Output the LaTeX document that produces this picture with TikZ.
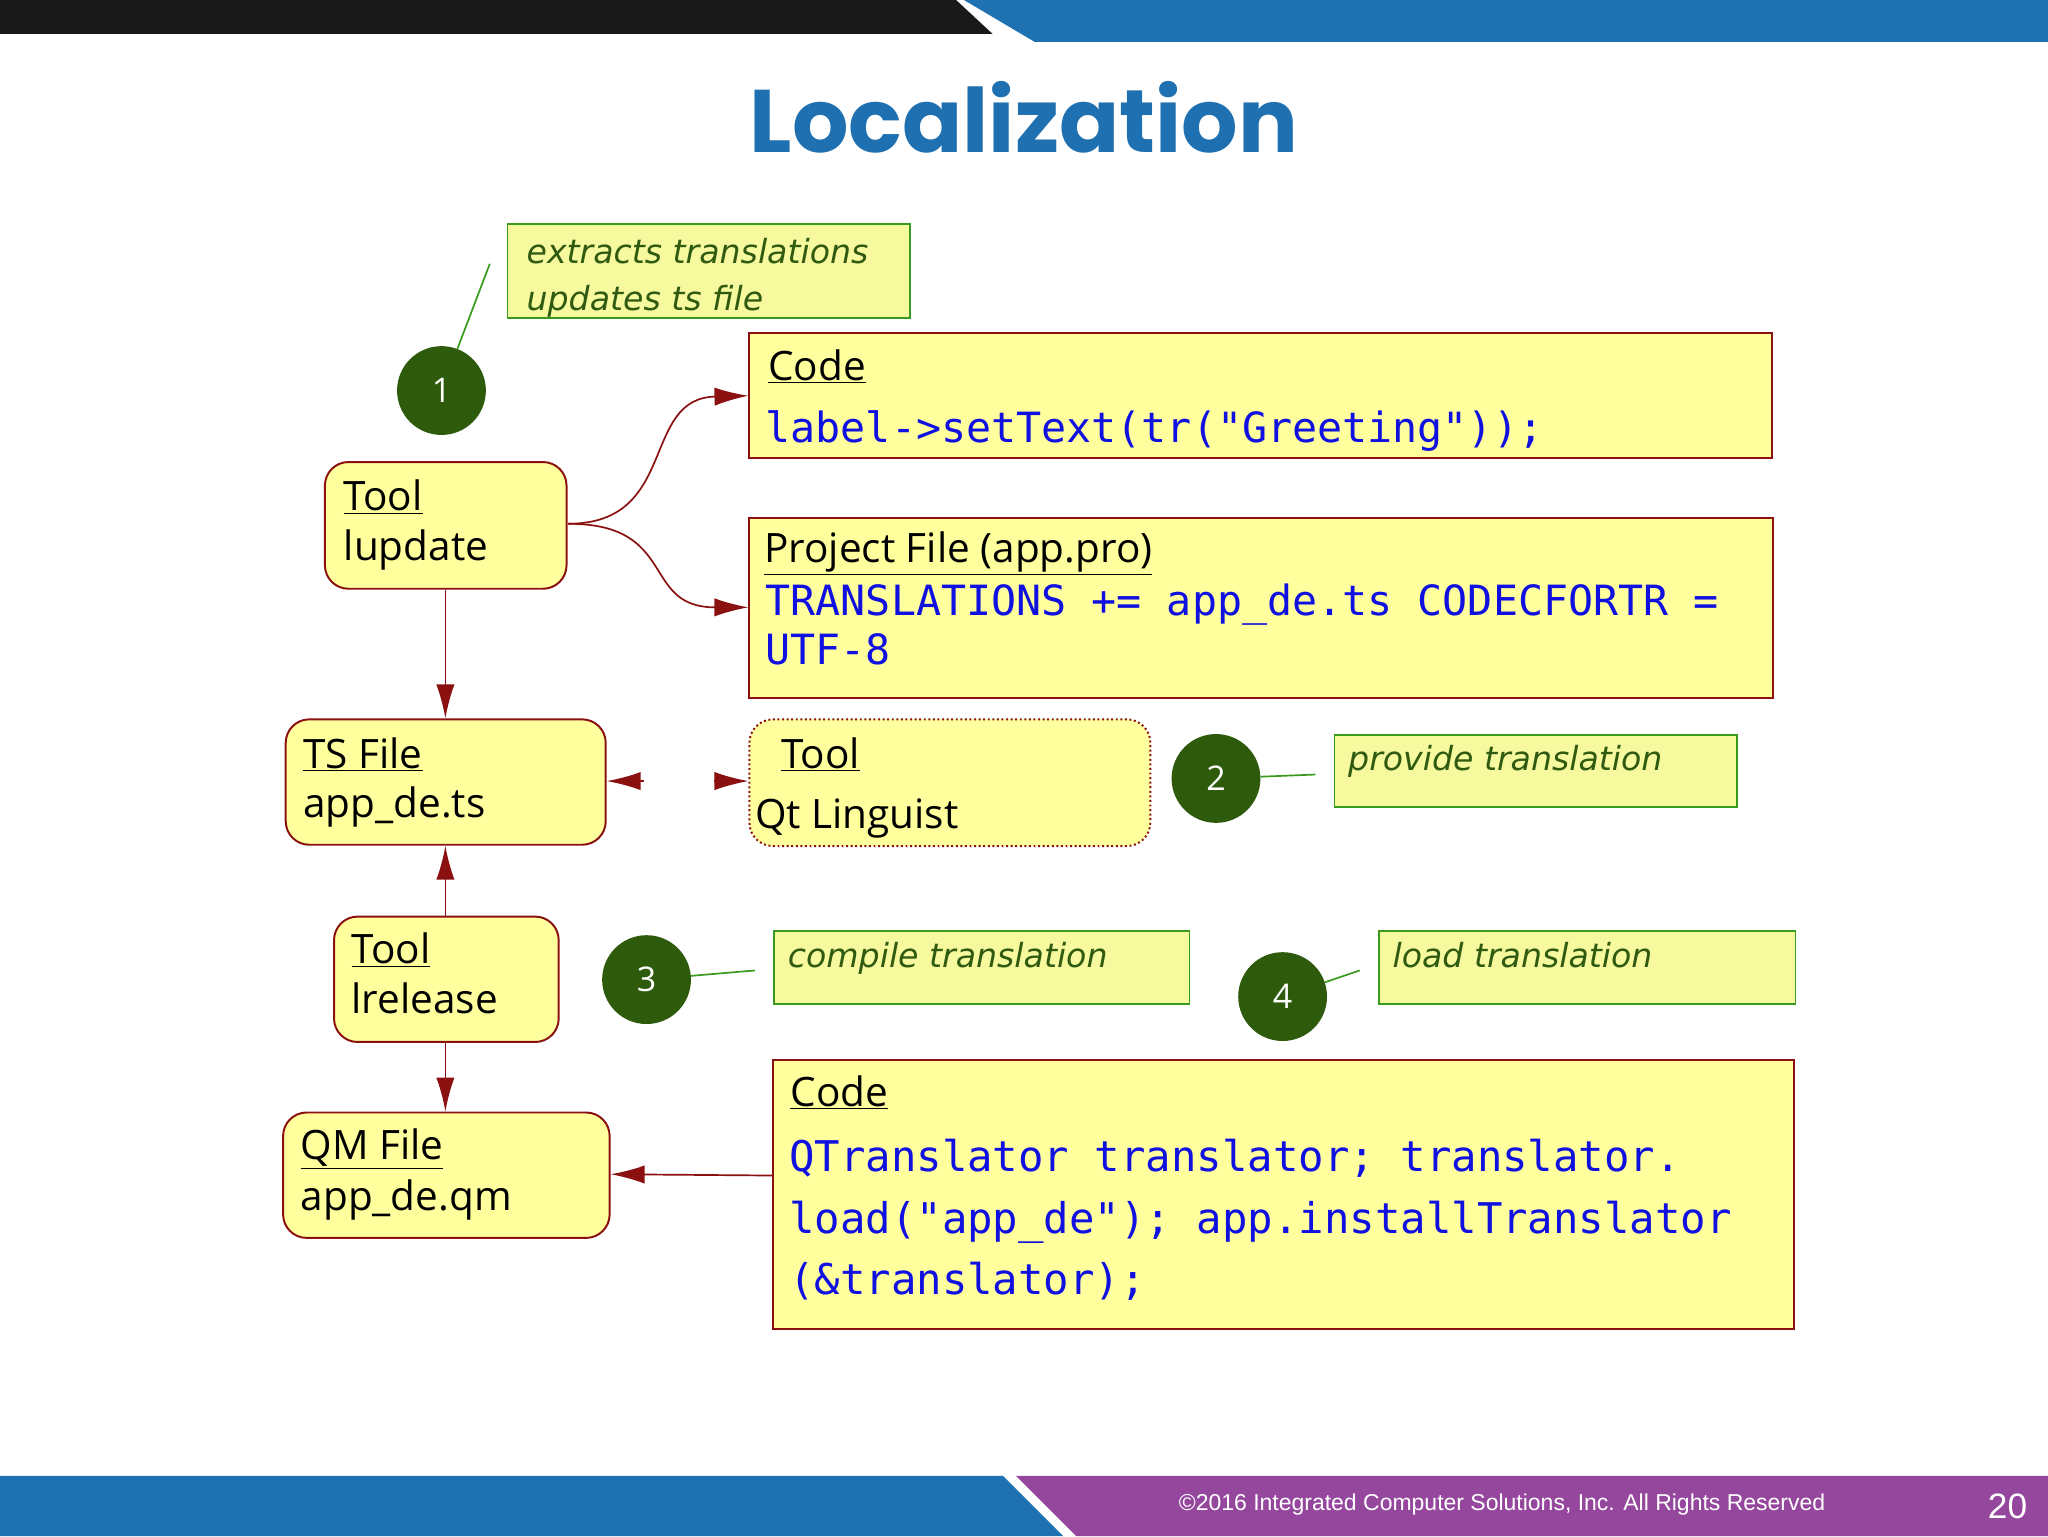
\documentclass[tikz,border=0pt]{standalone}
\usepackage{fontspec}
\setmainfont{Open Sans}
\newfontfamily\notefont{DejaVu Sans}
\newfontfamily\codefont{DejaVu Sans Mono}
\newfontfamily\titlefont{Poppins}
\newfontfamily\footfont{Liberation Sans}
\usetikzlibrary{arrows.meta}
\definecolor{boxfill}{HTML}{FFFF9E}
\definecolor{notefill}{HTML}{F6F99E}
\definecolor{boxline}{HTML}{8B1010}
\definecolor{noteline}{HTML}{3A9A1E}
\definecolor{notetext}{HTML}{2F5A10}
\definecolor{circ}{HTML}{2E5A0C}
\definecolor{codeblue}{HTML}{1010E0}
\definecolor{titleblue}{HTML}{1F70B0}
\definecolor{barblue}{HTML}{1F72B2}
\definecolor{barpurple}{HTML}{94479C}
\tikzset{
 box/.style={draw=boxline,fill=boxfill,line width=1.5pt,anchor=north west,inner sep=0},
 rbox/.style={box,rounded corners=18pt},
 note/.style={draw=noteline,fill=notefill,line width=1.3pt,anchor=north west,inner sep=0},
 circnode/.style={circle,fill=circ,minimum size=68pt,inner sep=0,text=white,font=\fontsize{26}{26}\selectfont},
 txt/.style={anchor=base west,inner sep=0,font=\fontsize{31}{31}\selectfont},
 code/.style={anchor=base west,inner sep=0,text=codeblue,font=\codefont\fontsize{31.9}{32}\selectfont},
 codeb/.style={code,font=\codefont\fontsize{32.4}{32}\selectfont},
 notetxt/.style={anchor=base west,inner sep=0,text=notetext,font=\notefont\itshape\fontsize{25.4}{25}\selectfont},
 conn/.style={draw=boxline,line width=1.3pt,-{Latex[length=26pt,width=14pt]}},
 gline/.style={draw=noteline,line width=1.3pt},
}
\begin{document}
\begin{tikzpicture}[x=1pt,y=-1pt]
\useasboundingbox (0,0) rectangle (1568,1176);
\fill[white] (0,0) rectangle (1568,1176);
% bars
\fill[black!90] (0,0) -- (732,0) -- (760,26) -- (0,26) -- cycle;
\fill[barblue] (738,0) -- (1568,0) -- (1568,32) -- (792,32) -- cycle;
\fill[barblue] (0,1130) -- (768,1130) -- (814,1176) -- (0,1176) -- cycle;
\fill[barpurple] (778,1130) -- (1568,1130) -- (1568,1176) -- (824,1176) -- cycle;
\node[text=white,font=\footfont\fontsize{17.6}{18}\selectfont] (foot) at (1150,1152) {©2016 Integrated Computer Solutions, Inc. All Rights Reserved};
\node[text=white,font=\footfont\fontsize{27}{27}\selectfont] (pg) at (1537,1153) {20};
\node[text=titleblue,font=\titlefont\bfseries\fontsize{68}{68}\selectfont] (title) at (784,90) {Localization};
% note 1
\node[note,minimum width=308pt,minimum height=72pt] (n1) at (388,171) {};
\node[notetxt] at (403,202) {extracts translations};
\node[notetxt] at (403,238) {updates ts file};
\node[circnode] (c1) at (338,299) {1};
\coordinate (n1p) at (375,202);
\draw[gline] (c1) -- (n1p);
% lupdate
\node[rbox,minimum width=185pt,minimum height=97pt] (lup) at (248,353) {};
\node[txt] at (263,391) {\underline{Tool}};
\node[txt] at (263,429) {lupdate};
% code1
\node[box,minimum width=783pt,minimum height=96pt] (code1) at (573,254) {};
\node[txt] at (588,291) {\underline{Code}};
\node[code] at (586,339) {label->setText(tr("Greeting"));};
% project
\node[box,minimum width=784pt,minimum height=138pt] (proj) at (573,396) {};
\node[txt] at (585,431) {\underline{Project File (app.pro)}};
\node[code] at (586,471) {TRANSLATIONS += app\_de.ts CODECFORTR =};
\node[code] at (586,509) {UTF-8};
\coordinate (lupr) at (435,401);
\draw[conn] (lupr) .. controls (520,401) and (490,305) .. (code1.west |- 0,303);
\draw[conn] (lupr) .. controls (520,401) and (490,465) .. (proj.west |- 0,465);
% TS
\node[rbox,minimum width=245pt,minimum height=96pt] (ts) at (218,550) {};
\node[txt] at (232,588) {\underline{TS File}};
\node[txt] at (232,626) {app\_de.ts};
\draw[conn] (lup.south -| 341,0) -- (ts.north -| 341,0);
% linguist
\node[rbox,fill=boxfill,draw=boxline,dotted,minimum width=307pt,minimum height=97pt] (ling) at (573,550) {};
\node[txt] at (598,588) {\underline{Tool}};
\node[txt] at (578,634) {Qt Linguist};
\coordinate (la) at (493,598);
\coordinate (lb) at (547,598);
\draw[conn] (la) -- (ts.east |- 0,598);
\draw[conn] (lb) -- (ling.west |- 0,598);
% note 2
\node[circnode] (c2) at (931,596) {2};
\node[note,minimum width=308pt,minimum height=55pt] (n2) at (1021,562) {};
\node[notetxt] at (1032,590) {provide translation};
\coordinate (n2p) at (1007,593);
\draw[gline] (c2) -- (n2p);
% lrelease
\node[rbox,minimum width=172pt,minimum height=96pt] (lrel) at (255,701) {};
\node[txt] at (269,738) {\underline{Tool}};
\node[txt] at (269,776) {lrelease};
\draw[conn] (lrel.north -| 341,0) -- (ts.south -| 341,0);
% QM
\node[rbox,minimum width=250pt,minimum height=96pt] (qm) at (216,851) {};
\node[txt] at (230,888) {\underline{QM File}};
\node[txt] at (230,927) {app\_de.qm};
\draw[conn] (lrel.south -| 341,0) -- (qm.north -| 341,0);
% note 3
\node[circnode] (c3) at (495,750) {3};
\node[note,minimum width=318pt,minimum height=56pt] (n3) at (592,712) {};
\node[notetxt] at (603,741) {compile translation};
\coordinate (n3p) at (578,743);
\draw[gline] (c3) -- (n3p);
% note 4
\node[circnode] (c4) at (982,763) {4};
\node[note,minimum width=319pt,minimum height=56pt] (n4) at (1055,712) {};
\node[notetxt] at (1066,741) {load translation};
\coordinate (n4p) at (1041,743);
\draw[gline] (c4) -- (n4p);
% code2
\node[box,minimum width=782pt,minimum height=206pt] (code2) at (591,811) {};
\node[txt] at (605,847) {\underline{Code}};
\node[codeb] at (604,897) {QTranslator translator; translator.};
\node[codeb] at (604,944) {load("app\_de"); app.installTranslator};
\node[codeb] at (604,991) {(\&translator);};
\draw[conn] (code2.west |- 0,900) -- (qm.east |- 0,899);
\end{tikzpicture}
\end{document}
